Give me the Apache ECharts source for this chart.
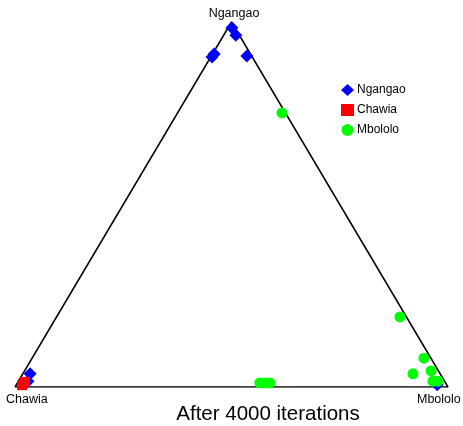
<!DOCTYPE html>
<html>
<head>
<meta charset="utf-8">
<style>
  html, body { margin: 0; padding: 0; background: #fff; }
  #chart { width: 463px; height: 426px; }
</style>
<script src="https://cdn.jsdelivr.net/npm/echarts@6/dist/echarts.min.js"></script>
</head>
<body>
<div id="chart"></div>
<script>
// Ternary compositions: [Ngangao, Chawia, Mbololo] fractions per sample
const ngangao = [
  [0.984, 0.007, 0.009],
  [0.964, 0.008, 0.028],
  [0.912, 0.084, 0.004],
  [0.904, 0.093, 0.003],
  [0.907, 0.011, 0.082],
  [0.036, 0.947, 0.017],
  [0.016, 0.962, 0.022],
  [0.006, 0.022, 0.972]
];
const chawia = [
  [0.014, 0.970, 0.016],
  [0.005, 0.981, 0.014]
];
const mbololo = [
  [0.751, 0.008, 0.241],
  [0.192, 0.015, 0.793],
  [0.079, 0.016, 0.905],
  [0.044, 0.017, 0.939],
  [0.036, 0.063, 0.901],
  [0.016, 0.027, 0.957],
  [0.016, 0.015, 0.969],
  [0.011, 0.429, 0.560],
  [0.011, 0.417, 0.572],
  [0.011, 0.406, 0.583]
];
const vertexLabels = ['Ngangao', 'Chawia', 'Mbololo'];
const titleText = 'After 4000 iterations';

// Map a composition onto the plane: Chawia at (0,0), Mbololo at (1,0), Ngangao at (0.5,1)
function toXY(c) {
  const s = c[0] + c[1] + c[2];
  const n = c[0] / s, m = c[2] / s;
  return [m + n / 2, n];
}

const triangle = [[0, 0], [1, 0], [0.5, 1], [0, 0]];
const font = 'Liberation Sans, Arial, Helvetica, sans-serif';

const chart = echarts.init(document.getElementById('chart'));
chart.setOption({
  animation: false,
  backgroundColor: '#fff',
  title: {
    text: titleText,
    left: 263, top: 399, textAlign: 'center',
    textStyle: { fontFamily: font, fontSize: 20.5, fontWeight: 'normal', color: '#000' }
  },
  legend: {
    orient: 'vertical',
    left: 336, top: 79,
    itemWidth: 13, itemHeight: 12, itemGap: 8,
    textStyle: { fontFamily: font, fontSize: 12, color: '#000', padding: [0, 0, 0, -2] },
    data: [
      { name: 'Ngangao', icon: 'diamond' },
      { name: 'Chawia', icon: 'rect' },
      { name: 'Mbololo', icon: 'circle' }
    ]
  },
  grid: { left: 15, right: 15, top: 22, bottom: 39 },
  xAxis: { type: 'value', min: 0, max: 1, show: false },
  yAxis: { type: 'value', min: 0, max: 1, show: false },
  series: [
    {
      type: 'line',
      data: triangle,
      symbol: 'none',
      silent: true,
      lineStyle: { color: '#000', width: 1.5 },
      z: 1
    },
    {
      name: 'Ngangao', type: 'scatter', symbol: 'diamond', symbolSize: 13,
      itemStyle: { color: '#0000ff', opacity: 1 },
      data: ngangao.map(toXY), clip: false, z: 2
    },
    {
      name: 'Chawia', type: 'scatter', symbol: 'rect', symbolSize: 10,
      itemStyle: { color: '#ff0000', opacity: 1 },
      data: chawia.map(toXY), clip: false, z: 3
    },
    {
      name: 'Mbololo', type: 'scatter', symbol: 'circle', symbolSize: 11,
      itemStyle: { color: '#00ff00', opacity: 1 },
      data: mbololo.map(toXY), clip: false, z: 4
    }
  ],
  graphic: [
    { type: 'text', x: 234, y: 7,
      style: { text: vertexLabels[0], textAlign: 'center', fill: '#000', font: '12.5px ' + font } },
    { type: 'text', x: 6, y: 393,
      style: { text: vertexLabels[1], fill: '#000', font: '12.5px ' + font } },
    { type: 'text', x: 417, y: 393,
      style: { text: vertexLabels[2], fill: '#000', font: '12.5px ' + font } }
  ]
});
</script>
</body>
</html>
